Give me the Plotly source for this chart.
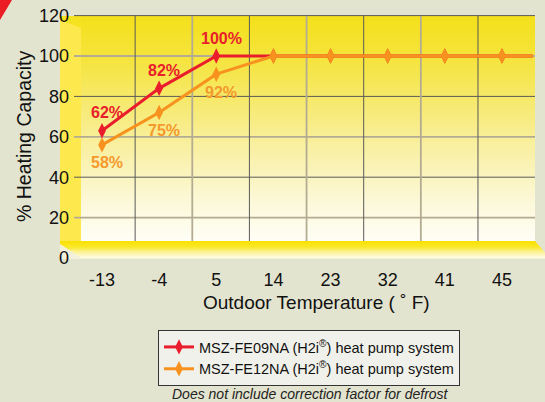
import plotly.graph_objects as go

# ---------------- data ----------------
temps = ["-13", "-4", "5", "14", "23", "32", "41", "45"]
fe09 = [63, 84, 100, 100, 100, 100, 100, 100]
fe12 = [56, 72, 91, 100, 100, 100, 100, 100]
fe09_labels = ["62%", "82%", "100%"]
fe12_labels = ["58%", "75%", "92%"]
yticks = [0, 20, 40, 60, 80, 100, 120]
series_names = ["MSZ-FE09NA (H2i<sup>®</sup>) heat pump system",
                "MSZ-FE12NA (H2i<sup>®</sup>) heat pump system"]

# ---------------- geometry / style ----------------
W, H = 545, 402
L, R, T, B = 74, 10, 12, 144
PW, PH = W - L - R, H - T - B
X0PX, XSTEP = 102.0, 57.14      # pixel of first category, pixel per category
YSCALE = 2.02                    # pixel per unit

def px(x):
    return (x - L) / PW

def py(y):
    return (H - B - y) / PH

RED = "#ea1d2c"
ORANGE = "#f7921e"
RED_TXT = "#e8202a"
ORANGE_TXT = "#f4992b"
FONT = "Liberation Sans, Arial, sans-serif"

idx = list(range(len(temps)))

def lerp(stops, y):
    for (y0, c0), (y1, c1) in zip(stops, stops[1:]):
        if y0 <= y <= y1:
            t = (y - y0) / (y1 - y0) if y1 != y0 else 0
            return "rgb(%d,%d,%d)" % tuple(round(a + (b - a) * t) for a, b in zip(c0, c1))
    return "rgb(%d,%d,%d)" % (stops[-1][1] if y > stops[-1][0] else stops[0][1])

shapes = []

# red corner triangle
shapes.append(dict(type="path", xref="paper", yref="paper", layer="below",
                   path=f"M {px(0)},{py(0)} L {px(12)},{py(0)} L {px(0)},{py(20)} Z",
                   fillcolor="#ec1c24", line=dict(width=0)))

# back wall gradient
wall_stops = [(16, (244, 224, 26)), (60, (245, 228, 62)), (100, (246, 233, 108)),
              (150, (249, 240, 165)), (200, (252, 248, 215)), (241, (255, 254, 246))]
y = 16
while y < 241:
    y2 = min(y + 3, 241)
    shapes.append(dict(type="rect", xref="paper", yref="paper", layer="below",
                       x0=px(81), x1=px(535), y0=py(y), y1=py(min(y2 + 0.6, 241)),
                       fillcolor=lerp(wall_stops, (y + y2) / 2), line=dict(width=0)))
    y = y2

# left wall
shapes.append(dict(type="path", xref="paper", yref="paper", layer="below",
                   path=f"M {px(60)},{py(16)} L {px(81)},{py(16)} L {px(81)},{py(241)} L {px(60)},{py(241)} Z",
                   fillcolor="#fde94e", line=dict(width=0)))
shapes.append(dict(type="path", xref="paper", yref="paper", layer="below",
                   path=f"M {px(60)},{py(16)} L {px(81)},{py(16)} L {px(81)},{py(28)} L {px(60)},{py(20)} Z",
                   fillcolor="#f6e21e", line=dict(width=0)))

# floor gradient
floor_stops = [(241, (249, 225, 0)), (247, (250, 232, 40)), (252, (252, 242, 150)), (258, (255, 252, 232))]
for yy in range(241, 258):
    ya, yb = yy, yy + 1.5
    xr_a = 535 + (ya - 241) * 12 / 14
    xr_b = 535 + (yb - 241) * 12 / 14
    shapes.append(dict(type="path", xref="paper", yref="paper", layer="below",
                       path=f"M {px(60)},{py(ya)} L {px(xr_a)},{py(ya)} L {px(xr_b)},{py(yb)} L {px(60)},{py(yb)} Z",
                       fillcolor=lerp(floor_stops, yy + 0.5), line=dict(width=0)))
# pale bevel at floor's left end
shapes.append(dict(type="path", xref="paper", yref="paper", layer="below",
                   path=f"M {px(60)},{py(244)} L {px(82)},{py(258.5)} L {px(60)},{py(258.5)} Z",
                   fillcolor="#f3f1da", line=dict(width=0)))

# grid lines (alternating dark / tan)
for v in yticks[1:]:
    dark = (v // 20) % 2 == 0
    shapes.append(dict(type="line", xref="paper", yref="y", layer="below",
                       x0=0, x1=px(535), y0=v, y1=v,
                       line=dict(color="#5a5a58" if dark else "#b3ac92", width=1 if dark else 1.8)))
for i in idx[:-1]:
    dark = i % 2 == 0
    shapes.append(dict(type="line", xref="x", yref="paper", layer="below",
                       x0=i + 0.58, x1=i + 0.58, y0=py(241), y1=py(16),
                       line=dict(color="#5a5a58" if dark else "#b3ac92", width=1 if dark else 1.8)))

fig = go.Figure()

ext = idx[-1] + (533 - (X0PX + XSTEP * idx[-1])) / XSTEP

for vals, col, name in [(fe09, RED, series_names[0]), (fe12, ORANGE, series_names[1])]:
    fig.add_trace(go.Scatter(x=[idx[-1], ext], y=[vals[-1], vals[-1]], mode="lines",
                             line=dict(color=col, width=3), showlegend=False, hoverinfo="skip"))
    fig.add_trace(go.Scatter(x=idx, y=vals, mode="lines+markers", name=name,
                             line=dict(color=col, width=3),
                             marker=dict(symbol="diamond-tall", size=11, color=col,
                                         line=dict(width=0))))

annotations = []
for i, lab in enumerate(fe09_labels):
    annotations.append(dict(x=idx[i], y=fe09[i], text=lab, showarrow=False, xshift=5, yshift=18,
                            font=dict(family=FONT, size=16, color=RED_TXT, weight="bold")))
for i, lab in enumerate(fe12_labels):
    annotations.append(dict(x=idx[i], y=fe12[i], text=lab, showarrow=False, xshift=5, yshift=-18,
                            font=dict(family=FONT, size=16, color=ORANGE_TXT, weight="bold")))
annotations.append(dict(xref="paper", yref="paper", x=px(310), y=py(394), yanchor="middle",
                        xanchor="center",
                        text="Does not include correction factor for defrost", showarrow=False,
                        font=dict(family=FONT, size=14, color="#222222", style="italic")))
annotations.append(dict(xref="paper", yref="paper", x=px(24), y=py(136), xanchor="center",
                        yanchor="middle", textangle=-90, text="% Heating Capacity", showarrow=False,
                        font=dict(family=FONT, size=19.5, color="#111111")))
annotations.append(dict(xref="paper", yref="paper", x=px(316), y=py(302), xanchor="center",
                        yanchor="middle", text="Outdoor Temperature ( ˚ F)", showarrow=False,
                        font=dict(family=FONT, size=19, color="#111111")))

fig.update_layout(
    width=W, height=H,
    margin=dict(l=L, r=R, t=T, b=B, autoexpand=False),
    paper_bgcolor="#e3e4cf", plot_bgcolor="rgba(0,0,0,0)",
    font=dict(family=FONT, color="#111111"),
    shapes=shapes, annotations=annotations,
    xaxis=dict(range=[(L - X0PX) / XSTEP, (W - R - X0PX) / XSTEP], tickvals=idx, ticktext=temps,
               showgrid=False, zeroline=False, showline=False, ticks="",
               tickfont=dict(size=18, color="#111111"), ticklabelstandoff=9),
    yaxis=dict(range=[0, PH / YSCALE], tickvals=yticks, showgrid=False, zeroline=False,
               showline=False, ticks="", tickfont=dict(size=18, color="#111111"), ticklabelstandoff=4),
    legend=dict(xref="container", yref="container", x=158 / W, y=1 - 330 / H,
                xanchor="left", yanchor="top", bgcolor="#f1f1eb", bordercolor="#333333",
                borderwidth=1, font=dict(size=14.5, color="#111111"), itemwidth=30, tracegroupgap=0),
    showlegend=True,
)

fig.write_html("out.html")
